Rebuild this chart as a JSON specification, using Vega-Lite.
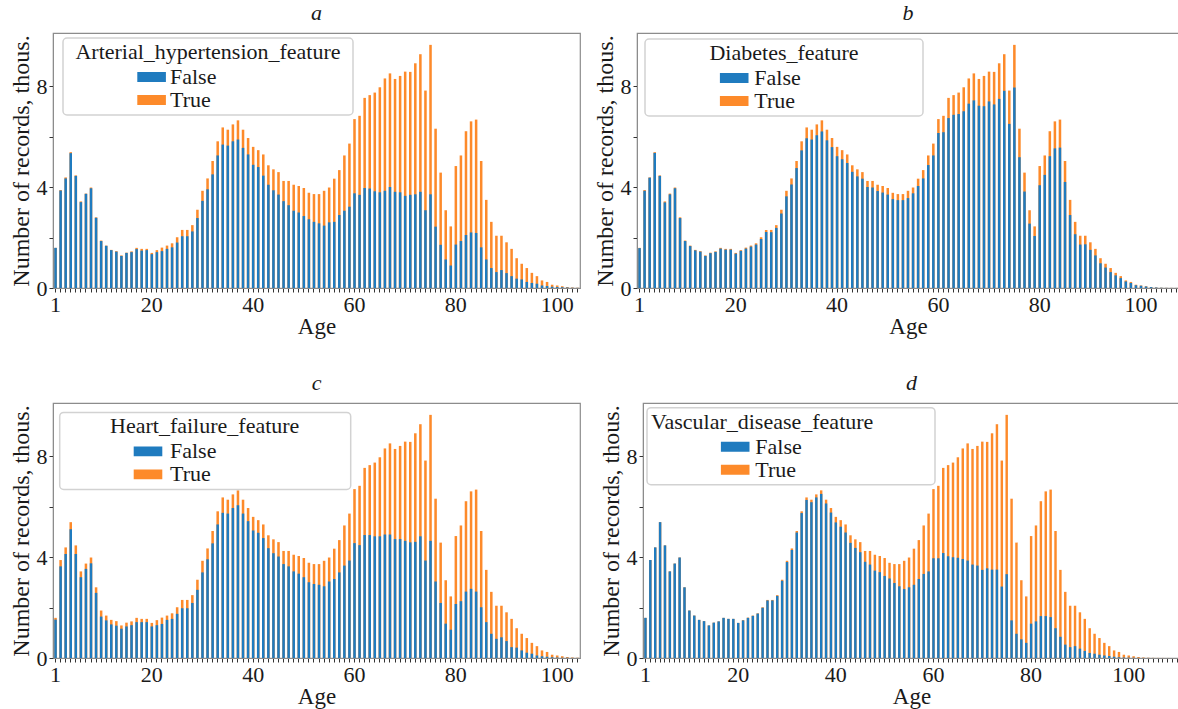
{
"$schema": "https://vega.github.io/schema/vega-lite/v6.json",
"background": "white",
"padding": {"left": 8, "top": 1, "right": 0, "bottom": 0},
"datasets": {"ages": [
{"age":1,"total":1.59,"hyp":1.59,"dia":1.58,"hf":1.52,"vas":1.59},
{"age":2,"total":3.88,"hyp":3.86,"dia":3.85,"hf":3.63,"vas":3.88},
{"age":3,"total":4.38,"hyp":4.34,"dia":4.37,"hf":4.12,"vas":4.38},
{"age":4,"total":5.38,"hyp":5.34,"dia":5.35,"hf":5.10,"vas":5.38},
{"age":5,"total":4.46,"hyp":4.44,"dia":4.44,"hf":4.12,"vas":4.46},
{"age":6,"total":3.43,"hyp":3.40,"dia":3.39,"hf":3.20,"vas":3.43},
{"age":7,"total":3.74,"hyp":3.73,"dia":3.71,"hf":3.53,"vas":3.74},
{"age":8,"total":3.98,"hyp":3.95,"dia":3.95,"hf":3.75,"vas":3.98},
{"age":9,"total":2.80,"hyp":2.78,"dia":2.77,"hf":2.58,"vas":2.80},
{"age":10,"total":1.88,"hyp":1.86,"dia":1.86,"hf":1.64,"vas":1.88},
{"age":11,"total":1.68,"hyp":1.67,"dia":1.66,"hf":1.49,"vas":1.68},
{"age":12,"total":1.51,"hyp":1.50,"dia":1.49,"hf":1.33,"vas":1.51},
{"age":13,"total":1.46,"hyp":1.44,"dia":1.44,"hf":1.28,"vas":1.46},
{"age":14,"total":1.29,"hyp":1.27,"dia":1.27,"hf":1.16,"vas":1.29},
{"age":15,"total":1.40,"hyp":1.39,"dia":1.38,"hf":1.25,"vas":1.40},
{"age":16,"total":1.45,"hyp":1.42,"dia":1.43,"hf":1.30,"vas":1.45},
{"age":17,"total":1.59,"hyp":1.54,"dia":1.56,"hf":1.42,"vas":1.59},
{"age":18,"total":1.55,"hyp":1.48,"dia":1.52,"hf":1.42,"vas":1.55},
{"age":19,"total":1.55,"hyp":1.50,"dia":1.52,"hf":1.42,"vas":1.55},
{"age":20,"total":1.39,"hyp":1.34,"dia":1.36,"hf":1.25,"vas":1.39},
{"age":21,"total":1.50,"hyp":1.42,"dia":1.47,"hf":1.30,"vas":1.49},
{"age":22,"total":1.60,"hyp":1.46,"dia":1.56,"hf":1.35,"vas":1.59},
{"age":23,"total":1.68,"hyp":1.55,"dia":1.64,"hf":1.51,"vas":1.67},
{"age":24,"total":1.77,"hyp":1.61,"dia":1.72,"hf":1.55,"vas":1.76},
{"age":25,"total":2.01,"hyp":1.80,"dia":1.94,"hf":1.75,"vas":1.99},
{"age":26,"total":2.30,"hyp":2.05,"dia":2.22,"hf":1.97,"vas":2.28},
{"age":27,"total":2.30,"hyp":2.05,"dia":2.21,"hf":1.97,"vas":2.28},
{"age":28,"total":2.49,"hyp":2.24,"dia":2.38,"hf":2.18,"vas":2.46},
{"age":29,"total":3.10,"hyp":2.77,"dia":2.95,"hf":2.70,"vas":3.06},
{"age":30,"total":3.85,"hyp":3.45,"dia":3.63,"hf":3.39,"vas":3.80},
{"age":31,"total":4.34,"hyp":3.91,"dia":4.10,"hf":3.91,"vas":4.28},
{"age":32,"total":5.03,"hyp":4.50,"dia":4.75,"hf":4.54,"vas":4.97},
{"age":33,"total":5.81,"hyp":5.25,"dia":5.45,"hf":5.29,"vas":5.74},
{"age":34,"total":6.36,"hyp":5.68,"dia":5.93,"hf":5.75,"vas":6.26},
{"age":35,"total":6.27,"hyp":5.64,"dia":5.88,"hf":5.72,"vas":6.17},
{"age":36,"total":6.48,"hyp":5.81,"dia":6.05,"hf":5.94,"vas":6.36},
{"age":37,"total":6.64,"hyp":5.88,"dia":6.20,"hf":6.05,"vas":6.50},
{"age":38,"total":6.27,"hyp":5.55,"dia":5.85,"hf":5.72,"vas":6.12},
{"age":39,"total":5.94,"hyp":5.29,"dia":5.58,"hf":5.42,"vas":5.76},
{"age":40,"total":5.59,"hyp":4.88,"dia":5.22,"hf":5.05,"vas":5.37},
{"age":41,"total":5.46,"hyp":4.79,"dia":5.10,"hf":4.96,"vas":5.20},
{"age":42,"total":5.29,"hyp":4.45,"dia":4.95,"hf":4.75,"vas":4.97},
{"age":43,"total":4.86,"hyp":4.09,"dia":4.60,"hf":4.35,"vas":4.56},
{"age":44,"total":4.70,"hyp":3.87,"dia":4.42,"hf":4.15,"vas":4.36},
{"age":45,"total":4.59,"hyp":3.70,"dia":4.33,"hf":4.02,"vas":4.19},
{"age":46,"total":4.24,"hyp":3.44,"dia":4.00,"hf":3.72,"vas":3.81},
{"age":47,"total":4.24,"hyp":3.28,"dia":3.98,"hf":3.63,"vas":3.70},
{"age":48,"total":4.09,"hyp":3.06,"dia":3.84,"hf":3.43,"vas":3.46},
{"age":49,"total":4.04,"hyp":2.99,"dia":3.78,"hf":3.34,"vas":3.40},
{"age":50,"total":3.96,"hyp":2.85,"dia":3.70,"hf":3.20,"vas":3.25},
{"age":51,"total":3.77,"hyp":2.72,"dia":3.52,"hf":3.00,"vas":3.15},
{"age":52,"total":3.72,"hyp":2.62,"dia":3.48,"hf":2.93,"vas":2.97},
{"age":53,"total":3.72,"hyp":2.56,"dia":3.48,"hf":2.90,"vas":2.84},
{"age":54,"total":3.85,"hyp":2.47,"dia":3.56,"hf":2.84,"vas":2.73},
{"age":55,"total":3.98,"hyp":2.60,"dia":3.75,"hf":3.03,"vas":2.80},
{"age":56,"total":4.33,"hyp":2.62,"dia":4.04,"hf":3.13,"vas":2.90},
{"age":57,"total":4.67,"hyp":2.89,"dia":4.34,"hf":3.39,"vas":3.13},
{"age":58,"total":5.25,"hyp":3.06,"dia":4.87,"hf":3.66,"vas":3.33},
{"age":59,"total":5.72,"hyp":3.22,"dia":5.25,"hf":3.86,"vas":3.43},
{"age":60,"total":6.69,"hyp":3.75,"dia":6.14,"hf":4.55,"vas":3.95},
{"age":61,"total":6.82,"hyp":3.69,"dia":6.17,"hf":4.47,"vas":3.95},
{"age":62,"total":7.53,"hyp":3.96,"dia":6.73,"hf":4.87,"vas":4.16},
{"age":63,"total":7.64,"hyp":3.94,"dia":6.86,"hf":4.87,"vas":4.03},
{"age":64,"total":7.74,"hyp":3.83,"dia":6.89,"hf":4.82,"vas":3.99},
{"age":65,"total":7.95,"hyp":3.79,"dia":7.00,"hf":4.82,"vas":3.97},
{"age":66,"total":8.30,"hyp":3.85,"dia":7.30,"hf":4.89,"vas":3.92},
{"age":67,"total":8.50,"hyp":4.00,"dia":7.43,"hf":4.89,"vas":3.86},
{"age":68,"total":8.28,"hyp":3.81,"dia":7.22,"hf":4.71,"vas":3.70},
{"age":69,"total":8.40,"hyp":3.79,"dia":7.20,"hf":4.71,"vas":3.66},
{"age":70,"total":8.57,"hyp":3.65,"dia":7.39,"hf":4.64,"vas":3.49},
{"age":71,"total":8.56,"hyp":3.69,"dia":7.27,"hf":4.58,"vas":3.55},
{"age":72,"total":8.90,"hyp":3.71,"dia":7.49,"hf":4.60,"vas":3.50},
{"age":73,"total":9.26,"hyp":3.81,"dia":7.81,"hf":4.82,"vas":3.50},
{"age":74,"total":7.82,"hyp":3.08,"dia":6.50,"hf":3.86,"vas":2.83},
{"age":75,"total":9.63,"hyp":3.71,"dia":7.94,"hf":4.64,"vas":3.32},
{"age":76,"total":6.31,"hyp":2.43,"dia":5.18,"hf":3.03,"vas":1.49},
{"age":77,"total":4.57,"hyp":1.71,"dia":3.82,"hf":2.18,"vas":0.96},
{"age":78,"total":3.08,"hyp":1.13,"dia":2.55,"hf":1.36,"vas":0.74},
{"age":79,"total":2.44,"hyp":0.89,"dia":2.06,"hf":1.12,"vas":0.60},
{"age":80,"total":4.83,"hyp":1.72,"dia":4.07,"hf":2.14,"vas":1.36},
{"age":81,"total":5.25,"hyp":1.86,"dia":4.48,"hf":2.25,"vas":1.45},
{"age":82,"total":6.21,"hyp":2.10,"dia":5.22,"hf":2.63,"vas":1.66},
{"age":83,"total":6.60,"hyp":2.20,"dia":5.53,"hf":2.74,"vas":1.66},
{"age":84,"total":6.67,"hyp":2.18,"dia":5.56,"hf":2.63,"vas":1.62},
{"age":85,"total":5.03,"hyp":1.61,"dia":4.20,"hf":2.01,"vas":1.18},
{"age":86,"total":3.49,"hyp":1.13,"dia":2.89,"hf":1.42,"vas":0.84},
{"age":87,"total":2.62,"hyp":0.79,"dia":2.13,"hf":0.96,"vas":0.53},
{"age":88,"total":2.07,"hyp":0.63,"dia":1.72,"hf":0.76,"vas":0.43},
{"age":89,"total":2.07,"hyp":0.71,"dia":1.73,"hf":0.82,"vas":0.47},
{"age":90,"total":1.81,"hyp":0.59,"dia":1.51,"hf":0.67,"vas":0.37},
{"age":91,"total":1.55,"hyp":0.47,"dia":1.29,"hf":0.43,"vas":0.28},
{"age":92,"total":1.18,"hyp":0.37,"dia":0.98,"hf":0.41,"vas":0.20},
{"age":93,"total":0.96,"hyp":0.34,"dia":0.81,"hf":0.30,"vas":0.17},
{"age":94,"total":0.79,"hyp":0.24,"dia":0.63,"hf":0.21,"vas":0.13},
{"age":95,"total":0.60,"hyp":0.20,"dia":0.50,"hf":0.17,"vas":0.10},
{"age":96,"total":0.47,"hyp":0.17,"dia":0.39,"hf":0.10,"vas":0.08},
{"age":97,"total":0.30,"hyp":0.10,"dia":0.26,"hf":0.07,"vas":0.05},
{"age":98,"total":0.24,"hyp":0.08,"dia":0.20,"hf":0.05,"vas":0.03},
{"age":99,"total":0.13,"hyp":0.05,"dia":0.11,"hf":0.03,"vas":0.02},
{"age":100,"total":0.10,"hyp":0.04,"dia":0.09,"hf":0.02,"vas":0.015},
{"age":101,"total":0.07,"hyp":0.03,"dia":0.06,"hf":0.01,"vas":0.01},
{"age":102,"total":0.04,"hyp":0.02,"dia":0.035,"hf":0.01,"vas":0.005},
{"age":103,"total":0.02,"hyp":0.01,"dia":0.02,"hf":0.005,"vas":0.004},
{"age":104,"total":0.01,"hyp":0.005,"dia":0.01,"hf":0.003,"vas":0.003},
{"age":105,"total":0.006,"hyp":0.003,"dia":0.005,"hf":0.002,"vas":0.002},
{"age":106,"total":0.004,"hyp":0.002,"dia":0.003,"hf":0.001,"vas":0.001},
{"age":107,"total":0.003,"hyp":0.001,"dia":0.002,"hf":0.001,"vas":0.001},
{"age":108,"total":0.002,"hyp":0.001,"dia":0.001,"hf":0.001,"vas":0.001},
{"age":109,"total":0.001,"hyp":0.001,"dia":0.001,"hf":0,"vas":0.001},
{"age":110,"total":0.001,"hyp":0,"dia":0.001,"hf":0,"vas":0.001}
]},
"data": {"name": "ages"},
"spacing": 32,
"resolve": {"scale": {"color": "independent"}, "legend": {"color": "independent"}},
"vconcat": [
{"hconcat": [
{"title": "a", "width": 527, "height": 255,
 "transform": [{"filter": "datum.age <= 104"}],
 "encoding": {"x": {"field": "age", "type": "ordinal", "scale": {"paddingInner": 0.5, "paddingOuter": 0.25}, "axis": {"title": "Age", "labelAngle": 0, "labelOverlap": false, "titlePadding": 0, "labelExpr": "indexof([1,20,40,60,80,100], datum.value) >= 0 ? datum.label : ''"}}},
 "layer": [
  {"mark": {"type": "bar"}, "encoding": {
    "y": {"field": "total", "type": "quantitative", "stack": null, "scale": {"domain": [0, 10.1], "nice": false}, "axis": {"title": "Number of records, thous.", "values": [0,2,4,6,8], "labelExpr": "datum.value % 4 === 0 ? datum.label : ''", "titleFontSize": 24, "titlePadding": 3}},
    "color": {"datum": "True", "type": "nominal", "scale": {"domain": ["False", "True"], "range": ["#1f7bbf", "#fd8a2a"]},
      "legend": {"title": "Arterial_hypertension_feature", "titleAnchor": "middle", "orient": "none", "legendX": 10, "legendY": 5, "symbolOffset": 73.6, "labelOffset": 7.4,
        "symbolType": "M-1.3,-0.45H1.3V0.45H-1.3ZM17.9,0L17.9,0"}}}},
  {"mark": {"type": "bar"}, "encoding": {
    "y": {"field": "hyp", "type": "quantitative", "stack": null, "scale": {"domain": [0, 10.1], "nice": false}, "axis": {"title": "Number of records, thous.", "values": [0,2,4,6,8], "labelExpr": "datum.value % 4 === 0 ? datum.label : ''", "titleFontSize": 24, "titlePadding": 3}},
    "color": {"datum": "False", "type": "nominal"}}}
 ]},
{"title": "b", "width": 542, "height": 255,
 "transform": [{"filter": "datum.age <= 107"}],
 "encoding": {"x": {"field": "age", "type": "ordinal", "scale": {"paddingInner": 0.5, "paddingOuter": 0.25}, "axis": {"title": "Age", "labelAngle": 0, "labelOverlap": false, "titlePadding": 0, "labelExpr": "indexof([1,20,40,60,80,100], datum.value) >= 0 ? datum.label : ''"}}},
 "layer": [
  {"mark": {"type": "bar"}, "encoding": {
    "y": {"field": "total", "type": "quantitative", "stack": null, "scale": {"domain": [0, 10.1], "nice": false}, "axis": {"title": "Number of records, thous.", "values": [0,2,4,6,8], "labelExpr": "datum.value % 4 === 0 ? datum.label : ''", "titleFontSize": 24, "titlePadding": 3}},
    "color": {"datum": "True", "type": "nominal", "scale": {"domain": ["False", "True"], "range": ["#1f7bbf", "#fd8a2a"]},
      "legend": {"title": "Diabetes_feature", "titleAnchor": "middle", "orient": "none", "legendX": 8, "legendY": 6, "symbolOffset": 74.2, "labelOffset": 9.1,
        "symbolType": "M-1.3,-0.45H1.3V0.45H-1.3ZM16.8,0L16.8,0"}}}},
  {"mark": {"type": "bar"}, "encoding": {
    "y": {"field": "dia", "type": "quantitative", "stack": null, "scale": {"domain": [0, 10.1], "nice": false}, "axis": {"title": "Number of records, thous.", "values": [0,2,4,6,8], "labelExpr": "datum.value % 4 === 0 ? datum.label : ''", "titleFontSize": 24, "titlePadding": 3}},
    "color": {"datum": "False", "type": "nominal"}}}
 ]}
], "spacing": 11, "resolve": {"scale": {"color": "independent"}, "legend": {"color": "independent"}}},
{"hconcat": [
{"title": "c", "width": 527, "height": 255,
 "transform": [{"filter": "datum.age <= 104"}],
 "encoding": {"x": {"field": "age", "type": "ordinal", "scale": {"paddingInner": 0.5, "paddingOuter": 0.25}, "axis": {"title": "Age", "labelAngle": 0, "labelOverlap": false, "titlePadding": 0, "labelExpr": "indexof([1,20,40,60,80,100], datum.value) >= 0 ? datum.label : ''"}}},
 "layer": [
  {"mark": {"type": "bar"}, "encoding": {
    "y": {"field": "total", "type": "quantitative", "stack": null, "scale": {"domain": [0, 10.1], "nice": false}, "axis": {"title": "Number of records, thous.", "values": [0,2,4,6,8], "labelExpr": "datum.value % 4 === 0 ? datum.label : ''", "titleFontSize": 24, "titlePadding": 3}},
    "color": {"datum": "True", "type": "nominal", "scale": {"domain": ["False", "True"], "range": ["#1f7bbf", "#fd8a2a"]},
      "legend": {"title": "Heart_failure_feature", "titleAnchor": "middle", "orient": "none", "legendX": 6.7, "legendY": 9.4, "symbolOffset": 73.3, "labelOffset": 11,
        "symbolType": "M-1.3,-0.45H1.3V0.45H-1.3ZM18,0L18,0"}}}},
  {"mark": {"type": "bar"}, "encoding": {
    "y": {"field": "hf", "type": "quantitative", "stack": null, "scale": {"domain": [0, 10.1], "nice": false}, "axis": {"title": "Number of records, thous.", "values": [0,2,4,6,8], "labelExpr": "datum.value % 4 === 0 ? datum.label : ''", "titleFontSize": 24, "titlePadding": 3}},
    "color": {"datum": "False", "type": "nominal"}}}
 ]},
{"title": "d", "width": 537, "height": 255,
 "transform": [{"filter": "datum.age <= 110"}],
 "encoding": {"x": {"field": "age", "type": "ordinal", "scale": {"paddingInner": 0.5, "paddingOuter": 0.25}, "axis": {"title": "Age", "labelAngle": 0, "labelOverlap": false, "titlePadding": 0, "labelExpr": "indexof([1,20,40,60,80,100], datum.value) >= 0 ? datum.label : ''"}}},
 "layer": [
  {"mark": {"type": "bar"}, "encoding": {
    "y": {"field": "total", "type": "quantitative", "stack": null, "scale": {"domain": [0, 10.1], "nice": false}, "axis": {"title": "Number of records, thous.", "values": [0,2,4,6,8], "labelExpr": "datum.value % 4 === 0 ? datum.label : ''", "titleFontSize": 24, "titlePadding": 3}},
    "color": {"datum": "True", "type": "nominal", "scale": {"domain": ["False", "True"], "range": ["#1f7bbf", "#fd8a2a"]},
      "legend": {"title": "Vascular_disease_feature", "titleAnchor": "start", "orient": "none", "legendX": 4, "legendY": 4.7, "symbolOffset": 73.2, "labelOffset": 9.1,
        "symbolType": "M-1.3,-0.45H1.3V0.45H-1.3ZM17.8,0L17.8,0"}}}},
  {"mark": {"type": "bar"}, "encoding": {
    "y": {"field": "vas", "type": "quantitative", "stack": null, "scale": {"domain": [0, 10.1], "nice": false}, "axis": {"title": "Number of records, thous.", "values": [0,2,4,6,8], "labelExpr": "datum.value % 4 === 0 ? datum.label : ''", "titleFontSize": 24, "titlePadding": 3}},
    "color": {"datum": "False", "type": "nominal"}}}
 ]}
], "spacing": 17, "resolve": {"scale": {"color": "independent"}, "legend": {"color": "independent"}}}
],
"config": {
 "font": "Liberation Serif",
 "view": {"stroke": "#8c8c8c", "strokeWidth": 1.2},
 "axis": {"labelFont": "Liberation Serif", "labelFontSize": 22, "labelColor": "#1a1a1a", "titleFont": "Liberation Serif", "titleFontSize": 23, "titleFontWeight": "normal", "titleColor": "#1a1a1a", "grid": false, "domainColor": "#8c8c8c", "tickColor": "#333333", "tickSize": 4, "labelPadding": 2},
 "title": {"font": "Liberation Serif", "fontSize": 22, "fontStyle": "italic", "fontWeight": "normal", "color": "#1a1a1a", "offset": 8},
 "legend": {"titleFont": "Liberation Serif", "titleFontSize": 22, "titleFontWeight": "normal", "titleColor": "#1a1a1a", "titleLimit": 500, "labelFont": "Liberation Serif", "labelFontSize": 22, "labelColor": "#1a1a1a", "labelLimit": 500, "symbolSize": 484, "symbolStrokeWidth": 0, "fillColor": "rgba(255,255,255,0.85)", "strokeColor": "#d2d2d2", "strokeWidth": 1.5, "cornerRadius": 4, "padding": 4, "titlePadding": 2, "rowPadding": 1}
}
}
